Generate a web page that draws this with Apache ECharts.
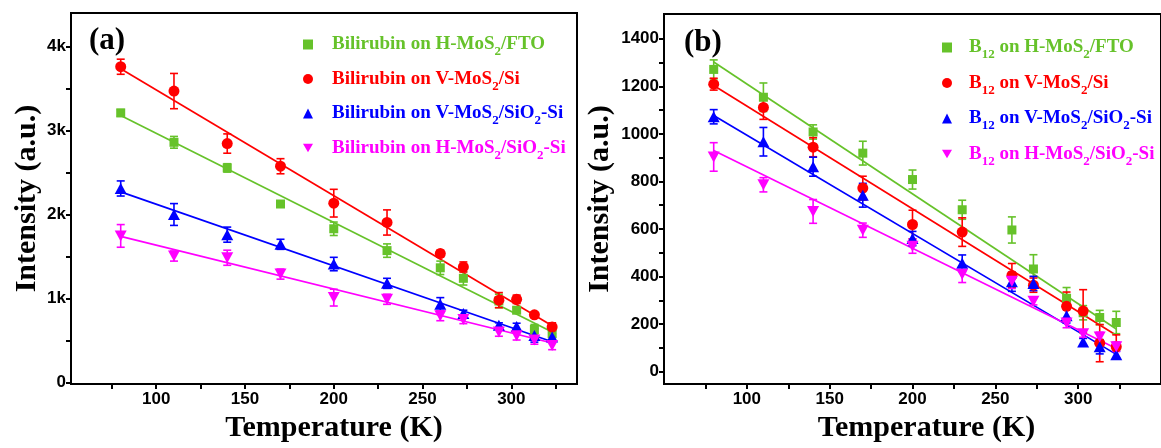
<!DOCTYPE html>
<html>
<head>
<meta charset="utf-8">
<script src="https://cdn.jsdelivr.net/npm/echarts@6/dist/echarts.min.js"></script>
<style>html,body{margin:0;padding:0;background:#fff}#c{width:1161px;height:448px}</style>
</head>
<body>
<div id="c"></div>
<script>
// ---------- data ----------
const temps = [80, 110, 140, 170, 200, 230, 260, 273, 293, 303, 313, 323];
const fitT = [80, 323];

// panel (a) Bilirubin
const aNames = ['Bilirubin on H-MoS2/FTO', 'Bilirubin on V-MoS2/Si', 'Bilirubin on V-MoS2/SiO2-Si', 'Bilirubin on H-MoS2/SiO2-Si'];
const aGreen = [3210, 2860, 2555, 2125, 1830, 1570, 1365, 1240, 970, 860, 630, 580];
const aGreenErr = [40, 70, 50, 30, 80, 80, 80, 80, 80, 30, 60, 40];
const aRed = [3760, 3470, 2845, 2575, 2135, 1905, 1535, 1375, 980, 990, 805, 660];
const aRedErr = [90, 210, 115, 90, 165, 150, 40, 60, 90, 50, 30, 50];
const aBlue = [2310, 2000, 1760, 1645, 1410, 1180, 930, 820, 680, 665, 560, 540];
const aBlueErr = [90, 130, 90, 60, 80, 60, 80, 40, 30, 40, 80, 40];
const aMag = [1745, 1505, 1485, 1290, 1010, 990, 795, 750, 600, 555, 505, 440];
const aMagErr = [135, 60, 90, 60, 100, 60, 60, 50, 50, 50, 50, 50];
const aGreenFit = [3180, 600];
const aRedFit = [3735, 675];
const aBlueFit = [2270, 485];
const aMagFit = [1740, 470];

// panel (b) B12
const bNames = ['B12 on H-MoS2/FTO', 'B12 on V-MoS2/Si', 'B12 on V-MoS2/SiO2-Si', 'B12 on H-MoS2/SiO2-Si'];
const bGreen = [1271, 1154, 1008, 919, 808, 681, 596, 432, 309, 248, 228, 207];
const bGreenErr = [40, 60, 30, 50, 40, 40, 55, 60, 45, 30, 30, 47];
const bRed = [1209, 1111, 944, 772, 619, 587, 405, 364, 275, 255, 120, 105];
const bRedErr = [25, 50, 40, 50, 60, 60, 50, 30, 60, 90, 78, 50];
const bBlue = [1072, 967, 862, 742, 560, 456, 378, 371, 235, 125, 105, 71];
const bBlueErr = [30, 60, 40, 50, 30, 35, 40, 30, 30, 15, 30, 15];
const bMag = [903, 786, 674, 595, 528, 410, 380, 296, 205, 160, 146, 105];
const bMagErr = [60, 30, 50, 30, 30, 35, 30, 15, 20, 15, 20, 20];
const bGreenFit = [1302, 180];
const bRedFit = [1203, 153];
const bBlueFit = [1077, 73];
const bMagFit = [930, 98];

// ticks
const xTicks = [75, 100, 125, 150, 175, 200, 225, 250, 275, 300, 325];
const xLabels = [100, 150, 200, 250, 300];
const aYTicks = [0, 500, 1000, 1500, 2000, 2500, 3000, 3500, 4000];
const aYLabels = [0, 1000, 2000, 3000, 4000];
const aYLabelText = ['0', '1k', '2k', '3k', '4k'];
const bYTicks = [0, 100, 200, 300, 400, 500, 600, 700, 800, 900, 1000, 1100, 1200, 1300, 1400];
const bYLabels = [0, 200, 400, 600, 800, 1000, 1200, 1400];

// ---------- style ----------
const colors = ['#66c22a', '#ff0000', '#0000ff', '#ff00ff'];
const colorKeys = ['g', 'r', 'b', 'm'];
const downTri = 'path://M0,0 L10,0 L5,8.7 Z';
const symbols = ['rect', 'circle', 'triangle', downTri];
const symSizes = [9, 11, [12, 11], [12, 11]];
const SERIF = '"Liberation Serif","Times New Roman",serif';
const SANS = '"Liberation Sans",Arial,sans-serif';

const chart = echarts.init(document.getElementById('c'), null, {renderer: 'canvas'});

function zip(xs, ys) { return xs.map((x, i) => [x, ys[i]]); }
function zip3(xs, ys, es) { return xs.map((x, i) => [x, ys[i], es[i]]); }

function errSeries(idx, color, ys, es) {
  return {
    type: 'custom', xAxisIndex: idx, yAxisIndex: idx, silent: true, z: 3,
    data: zip3(temps, ys, es),
    renderItem: function (params, api) {
      const x = api.value(0), y = api.value(1), e = api.value(2);
      const t = api.coord([x, y + e]);
      const b = api.coord([x, y - e]);
      const w = 4;
      const st = {stroke: color, lineWidth: 1.6};
      return {type: 'group', children: [
        {type: 'line', shape: {x1: t[0], y1: t[1], x2: b[0], y2: b[1]}, style: st},
        {type: 'line', shape: {x1: t[0] - w, y1: t[1], x2: t[0] + w, y2: t[1]}, style: st},
        {type: 'line', shape: {x1: b[0] - w, y1: b[1], x2: b[0] + w, y2: b[1]}, style: st}
      ]};
    }
  };
}
function scatterSeries(idx, k, name, ys) {
  return {
    type: 'scatter', name: name, xAxisIndex: idx, yAxisIndex: idx, z: 4,
    symbol: symbols[k], symbolSize: symSizes[k],
    itemStyle: {color: colors[k], opacity: 1},
    data: zip(temps, ys)
  };
}
function fitSeries(idx, k, ys) {
  return {
    type: 'line', xAxisIndex: idx, yAxisIndex: idx, z: 2, silent: true,
    showSymbol: false, symbol: 'none',
    lineStyle: {color: colors[k], width: 1.7},
    data: zip(fitT, ys)
  };
}

const series = [];
const aSets = [[aGreen, aGreenErr, aGreenFit], [aRed, aRedErr, aRedFit], [aBlue, aBlueErr, aBlueFit], [aMag, aMagErr, aMagFit]];
const bSets = [[bGreen, bGreenErr, bGreenFit], [bRed, bRedErr, bRedFit], [bBlue, bBlueErr, bBlueFit], [bMag, bMagErr, bMagFit]];
aSets.forEach((s, k) => {
  series.push(fitSeries(0, k, s[2]));
  series.push(errSeries(0, colors[k], s[0], s[1]));
  series.push(scatterSeries(0, k, aNames[k], s[0]));
});
bSets.forEach((s, k) => {
  series.push(fitSeries(1, k, s[2]));
  series.push(errSeries(1, colors[k], s[0], s[1]));
  series.push(scatterSeries(1, k, bNames[k], s[0]));
});

// rich legend text with subscripts
const rich = {spa: {width: 14}, spb: {width: 12}};
colorKeys.forEach((ck, k) => {
  rich[ck] = {color: colors[k], fontFamily: SERIF, fontWeight: 'bold', fontSize: 19, lineHeight: 22};
  rich[ck + 's'] = {color: colors[k], fontFamily: SERIF, fontWeight: 'bold', fontSize: 13, padding: [15, 0, 0, 0]};
});
const nameKey = {};
aNames.forEach((n, k) => nameKey[n] = colorKeys[k]);
bNames.forEach((n, k) => nameKey[n] = colorKeys[k]);
function legendFmt(name) {
  const ck = nameKey[name];
  const parts = name.split(/(\d+)/);
  let out = name.indexOf('B12') === 0 ? '{spb| }' : '{spa| }';
  parts.forEach((p, i) => {
    if (!p) return;
    out += (i % 2 === 1) ? '{' + ck + 's|' + p + '}' : '{' + ck + '|' + p + '}';
  });
  return out;
}

function legendIcons(names) {
  return names.map((n, k) => ({name: n, icon: k === 3 ? downTri : symbols[k], itemStyle: {color: colors[k]}}));
}

function xAxis(idx, min, max, padL) {
  return {
    type: 'value', gridIndex: idx, min: min, max: max,
    name: 'Temperature (K)', nameLocation: 'middle', nameGap: 25,
    nameTextStyle: {fontFamily: SERIF, fontWeight: 'bold', fontSize: 30, color: '#000', padding: [0, 0, 0, padL]},
    axisLine: {show: true, onZero: false, lineStyle: {color: '#000', width: 2}},
    axisTick: {show: true, inside: false, length: 5, customValues: xTicks, lineStyle: {color: '#000', width: 2}},
    axisLabel: {customValues: xLabels, margin: 7, fontFamily: SANS, fontWeight: 'bold', fontSize: 17, color: '#000'},
    splitLine: {show: false}
  };
}
function yAxis(idx, min, max, ticks, labels, fmt, gap) {
  return {
    type: 'value', gridIndex: idx, min: min, max: max,
    name: 'Intensity (a.u.)', nameLocation: 'middle', nameGap: gap, nameMoveOverlap: false,
    nameTextStyle: {fontFamily: SERIF, fontWeight: 'bold', fontSize: 30, color: '#000'},
    axisLine: {show: true, onZero: false, lineStyle: {color: '#000', width: 2}},
    axisTick: {show: true, inside: false, length: 5, customValues: ticks, lineStyle: {color: '#000', width: 2}},
    axisLabel: {customValues: labels, margin: 5, fontFamily: SANS, fontWeight: 'bold', fontSize: 17, color: '#000', formatter: fmt},
    splitLine: {show: false}
  };
}

const option = {
  backgroundColor: '#fff',
  animation: false,
  grid: [
    {left: 71, right: 1161 - 577, top: 13, bottom: 448 - 394, show: true, borderColor: '#000', borderWidth: 2, backgroundColor: 'transparent'},
    {left: 664, right: -8, top: 14, bottom: 448 - 394, show: true, borderColor: '#000', borderWidth: 2, backgroundColor: 'transparent'}
  ],
  xAxis: [xAxis(0, 52, 337, 20), xAxis(1, 50, 350, 28)],
  yAxis: [
    yAxis(0, -20, 4400, aYTicks, aYLabels, v => aYLabelText[aYLabels.indexOf(v)] ?? '', 29),
    yAxis(1, -52, 1504, bYTicks, bYLabels, v => String(v), 49)
  ],
  legend: [
    {data: legendIcons(aNames), orient: 'vertical', left: 298, top: 30, itemWidth: 10, itemHeight: 10, itemGap: 11,
     formatter: legendFmt, textStyle: {rich: rich}, selectedMode: false},
    {data: legendIcons(bNames), orient: 'vertical', left: 937, top: 33, itemWidth: 10, itemHeight: 10, itemGap: 12,
     formatter: legendFmt, textStyle: {rich: rich}, selectedMode: false}
  ],
  graphic: [
    {type: 'text', left: 89, top: 25, style: {text: '(a)', font: 'bold 31px ' + SERIF, fill: '#000'}},
    {type: 'text', left: 684, top: 27, style: {text: '(b)', font: 'bold 31px ' + SERIF, fill: '#000'}}
  ],
  series: series
};
chart.setOption(option);
</script>
</body>
</html>
